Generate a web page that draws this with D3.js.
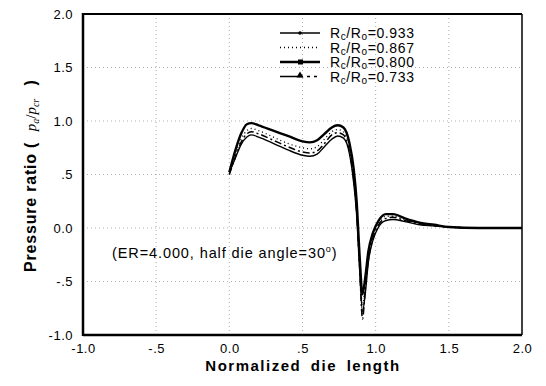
<!DOCTYPE html>
<html><head><meta charset="utf-8">
<script src="https://cdn.jsdelivr.net/npm/d3@7"></script>
<style>
html,body{margin:0;padding:0;background:#fff;}
svg{display:block;font-family:"Liberation Sans",Arial,sans-serif;}
</style></head>
<body>
<svg id="chart" width="546" height="386"></svg>
<script>
// ---- data ----
const xValues = [0, 0.04, 0.08, 0.12, 0.15, 0.2, 0.3, 0.4, 0.5, 0.55, 0.6, 0.65, 0.7, 0.74, 0.78, 0.82, 0.85, 0.87, 0.89, 0.91, 0.93, 0.95, 0.98, 1.02, 1.07, 1.12, 1.2, 1.3, 1.4, 1.5, 1.7, 2.0];
const seriesNames = ["0.933", "0.867", "0.800", "0.733"];
const y0933 = [0.52, 0.65, 0.78, 0.85, 0.87, 0.85, 0.79, 0.73, 0.68, 0.67, 0.69, 0.76, 0.83, 0.86, 0.84, 0.70, 0.42, 0.12, -0.38, -0.78, -0.60, -0.32, -0.12, 0.01, 0.07, 0.08, 0.06, 0.03, 0.02, 0.01, 0.0, 0.0];
const y0867 = [0.50, 0.68, 0.83, 0.91, 0.93, 0.91, 0.85, 0.79, 0.75, 0.74, 0.76, 0.83, 0.90, 0.92, 0.90, 0.76, 0.50, 0.20, -0.30, -0.72, -0.50, -0.25, -0.07, 0.05, 0.11, 0.11, 0.08, 0.04, 0.02, 0.01, 0.0, 0.0];
const y0800 = [0.52, 0.72, 0.88, 0.97, 0.98, 0.96, 0.91, 0.86, 0.81, 0.80, 0.82, 0.88, 0.94, 0.96, 0.94, 0.80, 0.55, 0.25, -0.25, -0.62, -0.45, -0.22, -0.05, 0.07, 0.13, 0.13, 0.09, 0.05, 0.03, 0.01, 0.0, 0.0];
const y0733 = [0.50, 0.66, 0.80, 0.88, 0.90, 0.88, 0.82, 0.76, 0.71, 0.70, 0.72, 0.79, 0.87, 0.89, 0.87, 0.72, 0.45, 0.15, -0.35, -0.85, -0.55, -0.30, -0.10, 0.03, 0.09, 0.10, 0.07, 0.04, 0.02, 0.01, 0.0, 0.0];
const xTicks = [-1.0, -0.5, 0.0, 0.5, 1.0, 1.5, 2.0];
const xTickLabels = ["-1.0", "-.5", "0.0", ".5", "1.0", "1.5", "2.0"];
const yTicks = [-1.0, -0.5, 0.0, 0.5, 1.0, 1.5, 2.0];
const yTickLabels = ["-1.0", "-.5", "0.0", ".5", "1.0", "1.5", "2.0"];

// ---- layout ----
const svg = d3.select("#chart");
const L = 83, R = 522, T = 14, B = 335;
const x = d3.scaleLinear().domain([-1, 2]).range([L, R]);
const y = d3.scaleLinear().domain([-1, 2]).range([B, T]);
const FONT = "Liberation Sans, Arial, sans-serif";

// grid
const grid = svg.append("g").attr("stroke", "#999").attr("stroke-width", 0.8).attr("stroke-dasharray", "1,3");
xTicks.slice(1, -1).forEach(v => grid.append("line").attr("x1", x(v)).attr("x2", x(v)).attr("y1", T).attr("y2", B));
yTicks.slice(1, -1).forEach(v => grid.append("line").attr("y1", y(v)).attr("y2", y(v)).attr("x1", L).attr("x2", R));

// axes via d3 axis (labels only)
const xAxis = d3.axisBottom(x).tickValues(xTicks).tickFormat((d, i) => xTickLabels[i]).tickSize(0).tickPadding(9);
const gx = svg.append("g").attr("transform", `translate(0,${B})`).call(xAxis);
gx.select(".domain").remove();
gx.selectAll("text").attr("font-size", 13).attr("fill", "#000").attr("font-family", FONT).attr("letter-spacing", 0.5);
const yAxis = d3.axisLeft(y).tickValues(yTicks).tickFormat((d, i) => yTickLabels[i]).tickSize(0).tickPadding(10);
const gy = svg.append("g").attr("transform", `translate(${L},0)`).call(yAxis);
gy.select(".domain").remove();
gy.selectAll("text").attr("font-size", 13).attr("fill", "#000").attr("font-family", FONT).attr("letter-spacing", 0.5);

// series
const series = [
  {name: "0.933", vals: y0933, width: 1.4, dash: null},
  {name: "0.867", vals: y0867, width: 1.3, dash: "1,3"},
  {name: "0.800", vals: y0800, width: 2.4, dash: null},
  {name: "0.733", vals: y0733, width: 1.5, dash: "7,3,2,3"}
];
const line = d3.line().x((d, i) => x(xValues[i])).y(d => y(d)).curve(d3.curveMonotoneX);
const gl = svg.append("g").attr("fill", "none").attr("stroke", "#000").attr("stroke-linejoin", "round");
series.forEach(s => {
  gl.append("path").attr("d", line(s.vals)).attr("stroke-width", s.width).attr("stroke-dasharray", s.dash);
});

// frame
svg.append("line").attr("x1", L).attr("x2", L).attr("y1", T - 1).attr("y2", B + 1).attr("stroke", "#000").attr("stroke-width", 2.5);
svg.append("line").attr("x1", L).attr("x2", R).attr("y1", B).attr("y2", B).attr("stroke", "#000").attr("stroke-width", 2.5);
svg.append("line").attr("x1", L).attr("x2", R).attr("y1", T).attr("y2", T).attr("stroke", "#000").attr("stroke-width", 2);
svg.append("line").attr("x1", R).attr("x2", R).attr("y1", T).attr("y2", B).attr("stroke", "#000").attr("stroke-width", 1.5);

// legend
const legX1 = 280, legX2 = 320, legTX = 330;
const legRows = [33, 47.5, 62, 76.5];
const lg = svg.append("g");
series.forEach((s, i) => {
  const yy = legRows[i];
  if (i === 3) {
    lg.append("line").attr("x1", legX1).attr("x2", legX1 + 20).attr("y1", yy).attr("y2", yy).attr("stroke", "#000").attr("stroke-width", 1.5);
    lg.append("line").attr("x1", legX1 + 20).attr("x2", legX2).attr("y1", yy).attr("y2", yy).attr("stroke", "#000").attr("stroke-width", 1.5).attr("stroke-dasharray", "3,4");
    lg.append("path").attr("d", d3.symbol(d3.symbolTriangle, 22)()).attr("transform", `translate(${legX1 + 20},${yy - 1})`).attr("fill", "#000");
  } else {
    lg.append("line").attr("x1", legX1).attr("x2", legX2).attr("y1", yy).attr("y2", yy).attr("stroke", "#000").attr("stroke-width", s.width).attr("stroke-dasharray", s.dash);
  }
  if (i === 0) lg.append("circle").attr("cx", legX1 + 20).attr("cy", yy).attr("r", 1.8).attr("fill", "#000");
  if (i === 2) lg.append("rect").attr("x", legX1 + 18).attr("y", yy - 2.5).attr("width", 5).attr("height", 5).attr("fill", "#000");
  const t = lg.append("text").attr("x", legTX).attr("y", yy + 5).attr("font-size", 14).attr("fill", "#000").attr("letter-spacing", 0.6);
  t.append("tspan").text("R");
  t.append("tspan").attr("font-size", 10).attr("dy", 2).text("c");
  t.append("tspan").attr("dy", -2).text("/R");
  t.append("tspan").attr("font-size", 10).attr("dy", 2).text("o");
  t.append("tspan").attr("dy", -2).text("=" + s.name);
});

// annotation
const ann = svg.append("text").attr("x", 112).attr("y", 258).attr("font-size", 14.5).attr("fill", "#000").attr("letter-spacing", 0.9);
ann.append("tspan").text("(ER=4.000, half die angle=30");
ann.append("tspan").attr("font-size", 9).attr("dy", -6).text("o");
ann.append("tspan").attr("dy", 6).text(")");

// x label
svg.append("text").attr("x", 303).attr("y", 371).attr("text-anchor", "middle")
  .attr("font-size", 15).attr("font-weight", "bold").attr("letter-spacing", 1.5).attr("word-spacing", 4)
  .text("Normalized die length");

// y label
const yl = svg.append("text").attr("transform", "translate(36,176) rotate(-90)").attr("text-anchor", "middle")
  .attr("font-size", 16).attr("fill", "#000");
yl.append("tspan").attr("font-weight", "bold").attr("letter-spacing", 0.8).text("Pressure ratio (\u00a0\u00a0");
yl.append("tspan").attr("font-family", "Liberation Serif, serif").attr("font-style", "italic").attr("font-size", 15).text("p");
yl.append("tspan").attr("font-family", "Liberation Serif, serif").attr("font-style", "italic").attr("font-size", 10).attr("dy", 3).text("a");
yl.append("tspan").attr("font-family", "Liberation Serif, serif").attr("font-size", 15).attr("dy", -3).text("/");
yl.append("tspan").attr("font-family", "Liberation Serif, serif").attr("font-style", "italic").attr("font-size", 15).text("p");
yl.append("tspan").attr("font-family", "Liberation Serif, serif").attr("font-style", "italic").attr("font-size", 10).attr("dy", 3).text("cr");
yl.append("tspan").attr("font-weight", "bold").attr("dy", -3).text("\u00a0\u00a0\u00a0)");
</script>
</body></html>
